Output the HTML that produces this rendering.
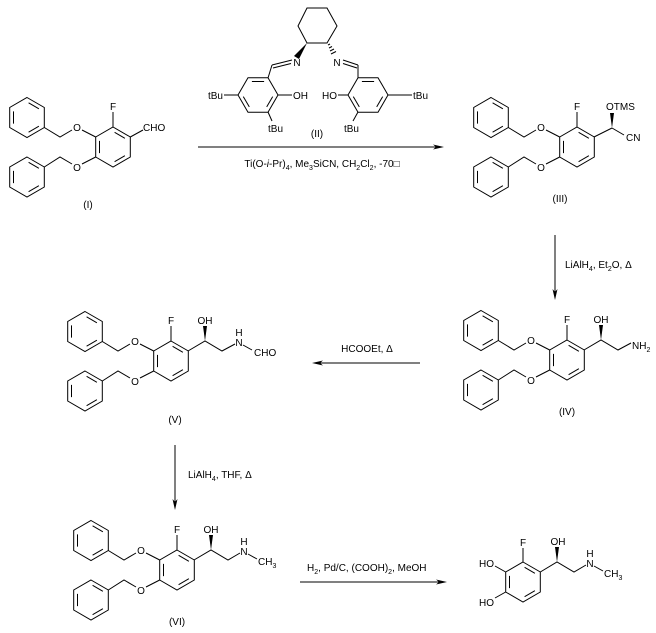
<!DOCTYPE html>
<html><head><meta charset="utf-8"><style>
html,body{margin:0;padding:0;background:#fff;}
svg{display:block;}
text{font-family:"Liberation Sans",sans-serif;font-size:10px;fill:#000;}
</style></head><body>
<svg width="656" height="633" viewBox="0 0 656 633" xmlns="http://www.w3.org/2000/svg">
<defs>
<g id="benz" stroke="#000" stroke-width="1" fill="none">
<polygon points="0,-20 17.3,-10 17.3,10 0,20 -17.3,10 -17.3,-10"/>
<line x1="1.6" y1="-14.7" x2="11.9" y2="-8.7"/>
<line x1="11.9" y1="8.7" x2="1.6" y2="14.7"/>
<line x1="-13.5" y1="6.1" x2="-13.5" y2="-6.1"/>
</g>
<g id="scaf">
<use href="#benz" transform="translate(27,117.5)"/>
<use href="#benz" transform="translate(113,147)"/>
<use href="#benz" transform="translate(27,177)"/>
<g stroke="#000" stroke-width="1" fill="none">
<polyline points="44.3,127.5 60,137 72,130"/>
<line x1="82" y1="130" x2="95.7" y2="137"/>
<line x1="113" y1="127" x2="113" y2="112"/>
<polyline points="95.7,157 82,164"/>
<polyline points="72,164 60,157 44.3,167"/>
</g>
<text x="77" y="131" text-anchor="middle">O</text>
<text x="77" y="171" text-anchor="middle">O</text>
<text x="113" y="110" text-anchor="middle">F</text>
</g>
</defs>

<!-- I -->
<use href="#scaf"/>
<line x1="130.3" y1="137" x2="143" y2="130" stroke="#000"/>
<text x="143" y="131">CHO</text>
<text x="88" y="208" text-anchor="middle">(I)</text>

<!-- II catalyst -->
<g stroke="#000" stroke-width="1" fill="none">
<polygon points="307,8 327,8 337,26 327,43 307,43 298,26"/>
<line x1="272" y1="65" x2="292" y2="60"/>
<line x1="273" y1="68" x2="291" y2="63.5"/>
<line x1="272" y1="65" x2="268" y2="78"/>
<line x1="278" y1="95" x2="292" y2="95"/>
<line x1="238" y1="95" x2="224" y2="95"/>
<line x1="268" y1="112" x2="272" y2="121"/>
<line x1="343" y1="60" x2="358" y2="65"/>
<line x1="343" y1="63.5" x2="357" y2="68"/>
<line x1="358" y1="65" x2="358" y2="78"/>
<line x1="348" y1="95" x2="338" y2="95"/>
<line x1="388" y1="95" x2="412" y2="95"/>
<line x1="358" y1="112" x2="353" y2="121"/>
<line x1="328" y1="45" x2="330" y2="44"/>
<line x1="329" y1="48" x2="332" y2="46.5"/>
<line x1="330" y1="51" x2="334" y2="49"/>
<line x1="331" y1="54" x2="336" y2="51.5"/>
</g>
<polygon points="307,43 294,56 299,59" fill="#000"/>
<use href="#benz" transform="translate(258,95) rotate(90)"/>
<use href="#benz" transform="translate(368,95) rotate(90)"/>
<text x="297" y="66" text-anchor="middle">N</text>
<text x="337" y="66" text-anchor="middle">N</text>
<text x="293" y="99">OH</text>
<text x="337" y="99" text-anchor="end">HO</text>
<text x="223" y="99" text-anchor="end">tBu</text>
<text x="413" y="99">tBu</text>
<text x="268" y="132">tBu</text>
<text x="359" y="132" text-anchor="end">tBu</text>
<text x="317" y="137" text-anchor="middle">(II)</text>

<!-- arrow 1 -->
<line x1="198" y1="147" x2="440" y2="147" stroke="#000"/>
<polygon points="444,147 433,144.5 436,147 433,149.5" fill="#000"/>
<text x="322" y="167" text-anchor="middle">Ti(O-<tspan font-style="italic">i</tspan>-Pr)<tspan font-size="7" dy="3">4</tspan><tspan dy="-3">, Me</tspan><tspan font-size="7" dy="3">3</tspan><tspan dy="-3">SiCN, CH</tspan><tspan font-size="7" dy="3">2</tspan><tspan dy="-3">Cl</tspan><tspan font-size="7" dy="3">2</tspan><tspan dy="-3">, -70□</tspan></text>

<!-- III -->
<use href="#scaf" transform="translate(464,0)"/>
<line x1="594" y1="137" x2="612" y2="128" stroke="#000"/>
<polygon points="612,128 610,113 614,113" fill="#000"/>
<line x1="612" y1="128" x2="624" y2="135" stroke="#000"/>
<text x="606" y="110">OTMS</text>
<text x="626" y="141">CN</text>
<text x="560" y="202" text-anchor="middle">(III)</text>

<!-- arrow 2 -->
<line x1="555" y1="235" x2="555" y2="296" stroke="#000"/>
<polygon points="555,300 552.5,289 555,292 557.5,289" fill="#000"/>
<text x="565" y="268">LiAlH<tspan font-size="7" dy="3">4</tspan><tspan dy="-3">, Et</tspan><tspan font-size="7" dy="3">2</tspan><tspan dy="-3">O, Δ</tspan></text>

<!-- IV -->
<use href="#scaf" transform="translate(454,213)"/>
<polyline points="584,350 601,340 618,350 631,343" stroke="#000" fill="none"/>
<polygon points="601,340 599,325 603,325" fill="#000"/>
<text x="601" y="323" text-anchor="middle">OH</text>
<text x="632" y="349">NH<tspan font-size="7" dy="3">2</tspan></text>
<text x="567" y="415" text-anchor="middle">(IV)</text>

<!-- arrow 3 -->
<line x1="420" y1="363" x2="316" y2="363" stroke="#000"/>
<polygon points="312,363 323,360.5 320,363 323,365.5" fill="#000"/>
<text x="367" y="352" text-anchor="middle">HCOOEt, Δ</text>

<!-- V -->
<use href="#scaf" transform="translate(58,214)"/>
<polyline points="188,351 205,341 222,351 235,344" stroke="#000" fill="none"/>
<line x1="243" y1="345" x2="252" y2="350" stroke="#000"/>
<polygon points="205,341 203,326 207,326" fill="#000"/>
<text x="205" y="324" text-anchor="middle">OH</text>
<text x="239" y="346" text-anchor="middle">N</text>
<text x="239" y="336" text-anchor="middle">H</text>
<text x="254" y="356">CHO</text>
<text x="175" y="423" text-anchor="middle">(V)</text>

<!-- arrow 4 -->
<line x1="175" y1="445" x2="175" y2="506" stroke="#000"/>
<polygon points="175,510 172.5,499 175,502 177.5,499" fill="#000"/>
<text x="188" y="478">LiAlH<tspan font-size="7" dy="3">4</tspan><tspan dy="-3">, THF, Δ</tspan></text>

<!-- VI -->
<use href="#scaf" transform="translate(64,423)"/>
<polyline points="194,560 211,550 228,560 240,553" stroke="#000" fill="none"/>
<line x1="248" y1="554" x2="257" y2="559" stroke="#000"/>
<polygon points="211,550 209,535 213,535" fill="#000"/>
<text x="211" y="533" text-anchor="middle">OH</text>
<text x="244" y="555" text-anchor="middle">N</text>
<text x="244" y="545" text-anchor="middle">H</text>
<text x="258" y="565">CH<tspan font-size="7" dy="3">3</tspan></text>
<text x="177" y="625" text-anchor="middle">(VI)</text>

<!-- arrow 5 -->
<line x1="300" y1="582" x2="443" y2="582" stroke="#000"/>
<polygon points="447,582 436,579.5 439,582 436,584.5" fill="#000"/>
<text x="307" y="571">H<tspan font-size="7" dy="3">2</tspan><tspan dy="-3">, Pd/C, (COOH)</tspan><tspan font-size="7" dy="3">2</tspan><tspan dy="-3">, MeOH</tspan></text>

<!-- final -->
<use href="#benz" transform="translate(523,582)"/>
<g stroke="#000" fill="none">
<line x1="523" y1="562" x2="523" y2="548"/>
<line x1="505.7" y1="572" x2="495" y2="566"/>
<line x1="505.7" y1="592" x2="495" y2="598"/>
<polyline points="540.3,572 557,562 574,572 586,565"/>
<line x1="594" y1="566" x2="603" y2="571"/>
</g>
<polygon points="557,562 555,547 559,547" fill="#000"/>
<text x="523" y="546" text-anchor="middle">F</text>
<text x="558" y="545" text-anchor="middle">OH</text>
<text x="494" y="567" text-anchor="end">HO</text>
<text x="494" y="606" text-anchor="end">HO</text>
<text x="590" y="567" text-anchor="middle">N</text>
<text x="590" y="557" text-anchor="middle">H</text>
<text x="604" y="577">CH<tspan font-size="7" dy="3">3</tspan></text>
</svg>
</body></html>
